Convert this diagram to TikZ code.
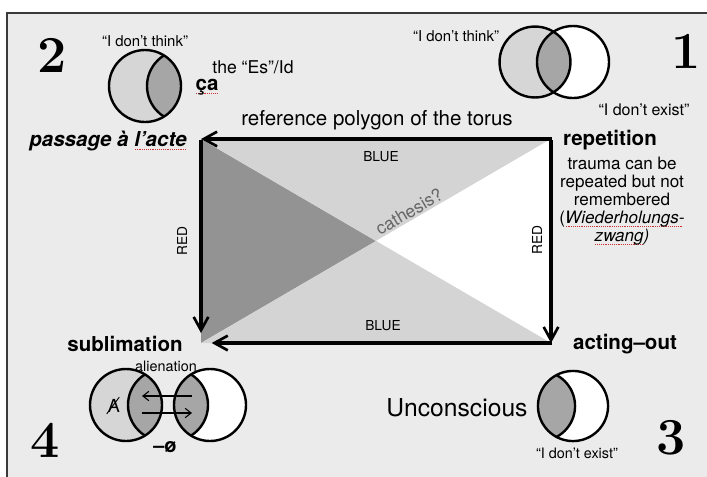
\documentclass[tikz,border=0pt]{standalone}
\usepackage{fontspec}
\setsansfont{TeX Gyre Heros}
\usetikzlibrary{arrows.meta,calc}

\definecolor{paper}{HTML}{EBEBEB}
\definecolor{framegray}{HTML}{3A3A3A}
\definecolor{lightfill}{HTML}{D6D6D6}
\definecolor{lensfill}{HTML}{A6A6A6}
\definecolor{darktri}{HTML}{939393}
\definecolor{lighttri}{HTML}{D4D4D4}
\definecolor{spellred}{HTML}{D03030}

% red dotted spell-check underline
\newlength\spellwd
\newcommand\spell[1]{\settowidth\spellwd{#1}\leavevmode\rlap{\color{spellred}\raisebox{-2.6pt}{\hbox to\spellwd{\leaders\hbox to 1.4pt{\hss\rule{0.7pt}{0.6pt}\hss}\hfill}}}#1}

\tikzset{
  heading/.style={font=\sffamily\bfseries\fontsize{15.4}{18}\selectfont, inner sep=0pt},
  numeral/.style={font=\rmfamily\bfseries\fontsize{39}{40}\selectfont, inner sep=0pt},
  quote/.style={font=\sffamily\fontsize{11.2}{13}\selectfont, inner sep=0pt},
  edgelabel/.style={font=\sffamily\fontsize{10.3}{12}\selectfont, inner sep=0pt},
  bigarrow/.style={line width=2.3pt, -{Straight Barb[length=10pt,width=11pt,line width=2pt]}},
  smallarrow/.style={line width=0.8pt, -{Straight Barb[length=4.5pt,width=7pt,line width=0.8pt]}},
  ring/.style={line width=1.8pt},
}

\begin{document}
\begin{tikzpicture}[x=0.75pt,y=-0.75pt]
\useasboundingbox (0,0) rectangle (707,476);
\clip (0,0) rectangle (707,476);
\fill[white] (0,0) rectangle (707,476);
\draw[framegray, line width=1.5pt, fill=paper] (7,13) rectangle (730,500);

% ---- torus reference polygon, split by its diagonals ----
\coordinate (tl) at (201,139);
\coordinate (tr) at (551,139);
\coordinate (br) at (551,343);
\coordinate (bl) at (201,343);
\coordinate (mid) at ($(tl)!0.5!(br)$);
\fill[darktri] (tl) -- (bl) -- (mid) -- cycle;
\fill[lighttri] (tl) -- (tr) -- (mid) -- cycle;
\fill[white] (tr) -- (br) -- (mid) -- cycle;
\fill[lighttri] (bl) -- (br) -- (mid) -- cycle;

\draw[bigarrow] ([xshift=0.9pt]tr) -- (tl);
\draw[bigarrow, shorten >=7.5pt] ([yshift=-0.9pt]tl) -- (bl);
\draw[bigarrow] ([yshift=-0.9pt]tr) -- (br);
\draw[bigarrow, shorten >=8pt] ([xshift=0.9pt]br) -- (bl);

\node[edgelabel] (blueT) at (381,157) {BLUE};
\node[edgelabel] (blueB) at (383,326) {BLUE};
\node[edgelabel, rotate=90] (redL) at (182,241) {RED};
\node[edgelabel, rotate=90] (redR) at (537,240) {RED};
\node[font=\sffamily\fontsize{13.2}{15}\selectfont, text=black!60, rotate=30.5, anchor=base west, inner sep=0pt] (cath) at ($(mid)+(4,-5)$) {cathesis?};

\node[font=\sffamily\fontsize{15.4}{18}\selectfont, inner sep=0pt] (title) at (377,120) {reference polygon of the torus};

% ---- corner labels ----
\node[heading, font=\sffamily\bfseries\itshape\fontsize{15.4}{18}\selectfont] (pa) at (108,141) {passage à \spell{l’acte}};
\node[heading] (rep) at (610,140) {repetition};
\node[font=\sffamily\fontsize{12.8}{13.6}\selectfont, align=center, inner sep=0pt] (trauma) at (622,201)
  {trauma can be\\repeated but not\\remembered\\(\spell{\itshape Wiederholungs-}\\\spell{\itshape zwang})};
\node[heading] (sub) at (125,344) {sublimation};
\node[heading] (act) at (625,344) {acting–out};

% ---- numerals ----
\node[numeral] (n2) at (52,55) {2};
\node[numeral] (n1) at (686,51) {1};
\node[numeral] (n3) at (671,438) {3};
\node[numeral] (n4) at (45,440) {4};

% ---- quadrant 2: single circle with lens on the right ----
\coordinate (a2) at (145,86);
\coordinate (b2) at (183,86);
\fill[lightfill] (a2) circle[radius=27pt];
\begin{scope}
  \clip (a2) circle[radius=27pt];
  \fill[lensfill] (b2) circle[radius=27pt];
  \draw[ring] (b2) circle[radius=27pt];
\end{scope}
\draw[ring] (a2) circle[radius=27pt];
\node[quote] (q2) at (145,41) {“I don’t think”};
\node[font=\sffamily\fontsize{13.2}{15}\selectfont, inner sep=0pt] (es) at (253,67) {the “Es”/Id};
\node[heading] (ca) at (207,87) {\spell{ça}};

% ---- quadrant 1: two overlapping circles ----
\coordinate (a1) at (535,62);
\coordinate (b1) at (573,62);
\fill[lightfill] (a1) circle[radius=26.6pt];
\fill[white] (b1) circle[radius=27pt];
\begin{scope}
  \clip (a1) circle[radius=26.6pt];
  \fill[lensfill] (b1) circle[radius=27pt];
\end{scope}
\draw[ring] (a1) circle[radius=26.6pt];
\draw[ring] (b1) circle[radius=27pt];
\node[quote] (q1) at (456,36) {“I don't think"};
\node[quote, font=\sffamily\fontsize{12}{14}\selectfont] (x1) at (644,110) {“I don't exist"};

% ---- quadrant 3: single circle with lens on the left ----
\coordinate (a3) at (573,406);
\coordinate (c3) at (540,406);
\fill[white] (a3) circle[radius=26.3pt];
\begin{scope}
  \clip (a3) circle[radius=26.3pt];
  \fill[lensfill] (c3) circle[radius=26.3pt];
  \draw[ring] (c3) circle[radius=26.3pt];
\end{scope}
\draw[ring] (a3) circle[radius=26.3pt];
\node[font=\sffamily\fontsize{18.5}{21}\selectfont, inner sep=0pt] (unc) at (457,408) {Unconscious};
\node[quote, font=\sffamily\fontsize{10.8}{12}\selectfont] (x3) at (577,453) {“I don't exist"};

% ---- quadrant 4: alienation between two circles ----
\coordinate (a4) at (126,405);
\coordinate (c4) at (164,405);
\coordinate (b4) at (210,405);
\coordinate (d4) at (172,405);
\fill[lightfill] (a4) circle[radius=27pt];
\fill[white] (b4) circle[radius=27pt];
\begin{scope}
  \clip (a4) circle[radius=27pt];
  \fill[lensfill] (c4) circle[radius=27pt];
  \draw[ring] (c4) circle[radius=27pt];
\end{scope}
\begin{scope}
  \clip (b4) circle[radius=27pt];
  \fill[lensfill] (d4) circle[radius=27pt];
  \draw[ring] (d4) circle[radius=27pt];
\end{scope}
\draw[ring] (a4) circle[radius=27pt];
\draw[ring] (b4) circle[radius=27pt];

\coordinate (al1) at (192,396);
\coordinate (al2) at (142,396);
\coordinate (al3) at (142,413);
\coordinate (al4) at (192,413);
\draw[smallarrow] (al1) -- (al2);
\draw[smallarrow] (al3) -- (al4);

\node[font=\sffamily\fontsize{10.8}{12}\selectfont, inner sep=0pt] (alien) at (166,366) {alienation};
\node[font=\sffamily\fontsize{13.5}{14}\selectfont, inner sep=0pt] (barA) at (114,406) {A};
\draw[line width=0.7pt] ($(barA.south west)+(-1,1)$) -- ($(barA.north east)+(-1,-2)$);
\node[font=\sffamily\bfseries\fontsize{15}{17}\selectfont, inner sep=0pt] (phi) at (165,447) {–ø};
\end{tikzpicture}
\end{document}
